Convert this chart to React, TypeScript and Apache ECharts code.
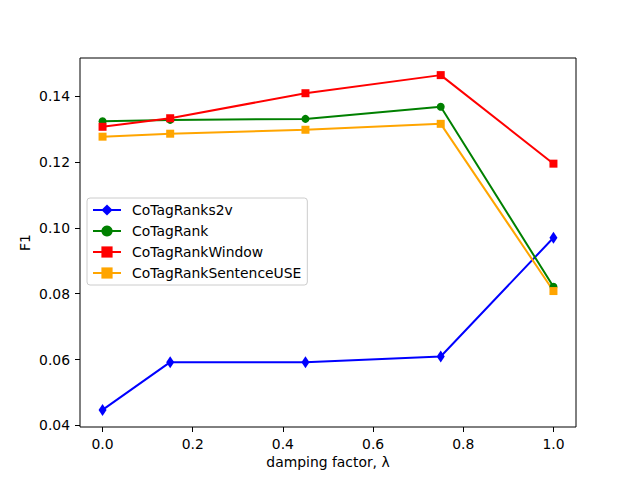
import React, { useEffect, useRef } from "react";
import * as echarts from "echarts";

const lambdas = [0.0, 0.15, 0.45, 0.75, 1.0];
const cotagRankS2v = [0.0447, 0.0592, 0.0592, 0.0609, 0.097];
const cotagRank = [0.1324, 0.1328, 0.1331, 0.1368, 0.0821];
const cotagRankWindow = [0.1307, 0.1333, 0.1409, 0.1464, 0.1195];
const cotagRankSentenceUSE = [0.1277, 0.1286, 0.1298, 0.1316, 0.0808];
const xTicks = [0, 0.2, 0.4, 0.6, 0.8, 1.0];
const yTicks = [0.04, 0.06, 0.08, 0.1, 0.12, 0.14];

const FONT = "DejaVu Sans";

function pairs(ys: number[]) {
  return lambdas.map((x, i) => [x, ys[i]]);
}

export default function App() {
  const ref = useRef<HTMLDivElement>(null);
  useEffect(() => {
    if (!ref.current) return;
    const chart = echarts.init(ref.current, null, { renderer: "svg" });
    const mk = (name: string, data: number[], color: string, symbol: string, size: any) => ({
      name,
      type: "line",
      data: pairs(data),
      symbol,
      symbolSize: size,
      showAllSymbol: true,
      lineStyle: { color, width: 2 },
      itemStyle: { color },
      emphasis: { disabled: true },
    });
    chart.setOption({
      animation: false,
      backgroundColor: "#ffffff",
      textStyle: { fontFamily: FONT },
      grid: {
        left: 80,
        right: 64,
        top: 58,
        bottom: 53,
        show: true,
        borderColor: "#000",
        borderWidth: 1,
        backgroundColor: "transparent",
      },
      xAxis: {
        type: "value",
        min: -0.05,
        max: 1.05,
        name: "damping factor, λ",
        nameLocation: "middle",
        nameGap: 28,
        nameMoveOverlap: false,
        nameTextStyle: { fontFamily: FONT, fontSize: 13.9, color: "#000" },
        axisLine: { show: false, onZero: false },
        splitLine: { show: false },
        axisTick: { show: true, length: 5, lineStyle: { color: "#000" }, customValues: xTicks },
        axisLabel: {
          customValues: xTicks,
          formatter: (v: number) => v.toFixed(1),
          fontFamily: FONT,
          fontSize: 13.9,
          color: "#000",
          margin: 10,
        },
      },
      yAxis: {
        type: "value",
        min: 0.0395,
        max: 0.1516,
        name: "F1",
        nameLocation: "middle",
        nameRotate: 90,
        nameGap: 48,
        nameMoveOverlap: false,
        nameTextStyle: { fontFamily: FONT, fontSize: 13.9, color: "#000" },
        axisLine: { show: false, onZero: false },
        splitLine: { show: false },
        axisTick: { show: true, length: 5, lineStyle: { color: "#000" }, customValues: yTicks },
        axisLabel: {
          customValues: yTicks,
          formatter: (v: number) => v.toFixed(2),
          fontFamily: FONT,
          fontSize: 13.9,
          color: "#000",
          margin: 10,
        },
      },
      legend: {
        orient: "vertical",
        left: 87,
        top: 198,
        padding: [5, 6, 5, 5],
        itemWidth: 28,
        itemHeight: 14,
        itemGap: 7,
        borderColor: "#cccccc",
        borderWidth: 1,
        borderRadius: 3,
        backgroundColor: "#ffffff",
        textStyle: { fontFamily: FONT, fontSize: 13.9, color: "#000", padding: [0, 0, 0, 6] },
        data: ["CoTagRanks2v", "CoTagRank", "CoTagRankWindow", "CoTagRankSentenceUSE"],
      },
      series: [
        mk("CoTagRanks2v", cotagRankS2v, "#0000ff", "diamond", [8, 12]),
        mk("CoTagRank", cotagRank, "#008000", "circle", 8),
        mk("CoTagRankWindow", cotagRankWindow, "#ff0000", "rect", 8),
        mk("CoTagRankSentenceUSE", cotagRankSentenceUSE, "#ffa500", "rect", 8),
      ],
    });
    return () => chart.dispose();
  }, []);
  return (
    <div
      ref={ref}
      style={{ position: "fixed", left: 0, top: 0, width: 640, height: 480, background: "#fff" }}
    />
  );
}
